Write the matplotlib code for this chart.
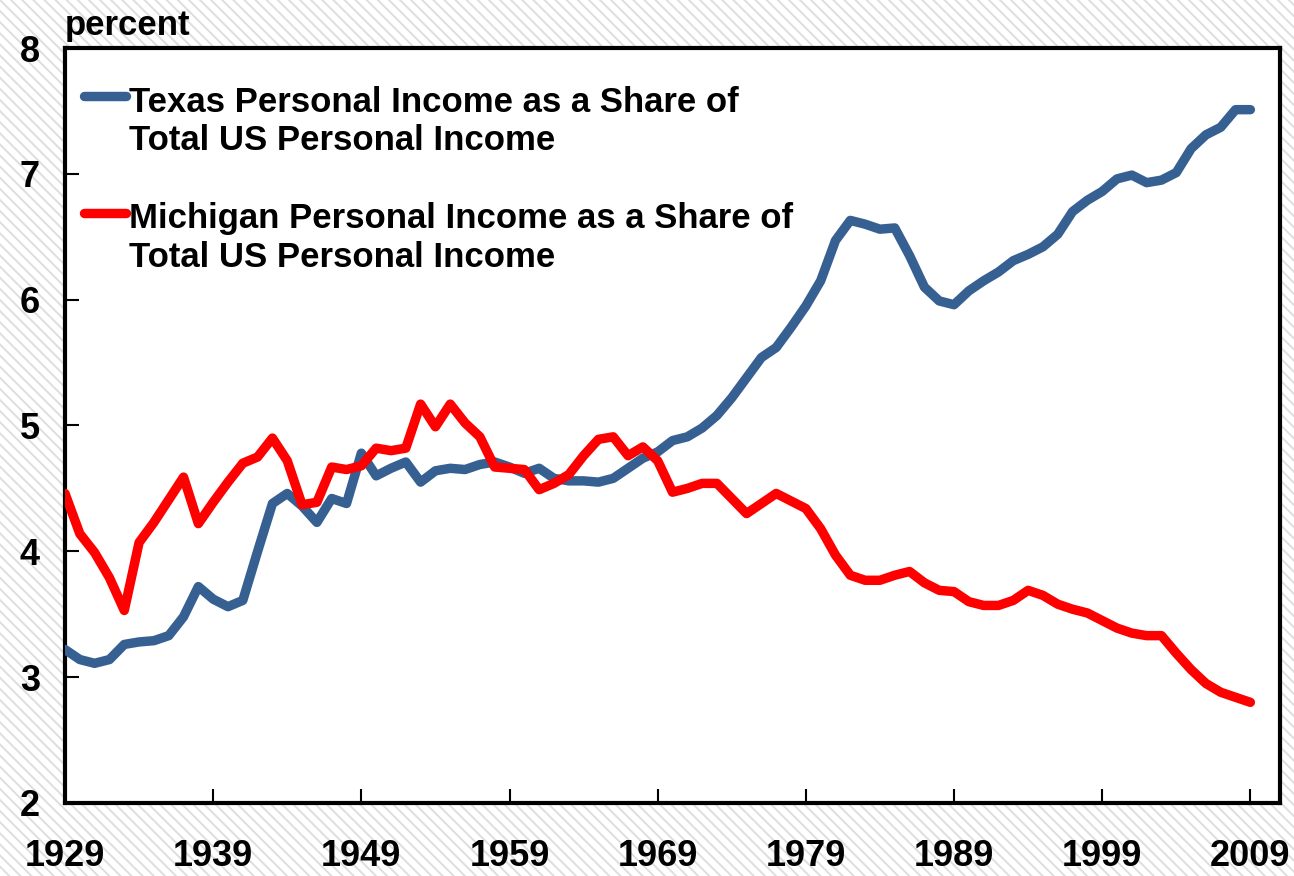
import numpy as np
import matplotlib
matplotlib.use("Agg")
import matplotlib.pyplot as plt
from matplotlib.legend_handler import HandlerLine2D

years = list(range(1929, 2010))

texas = [
    3.22, 3.14, 3.11, 3.14, 3.26, 3.28, 3.29, 3.33, 3.48, 3.72,   # 1929-1938
    3.62, 3.56, 3.61, 4.00, 4.38, 4.46, 4.36, 4.23, 4.42, 4.38,   # 1939-1948
    4.78, 4.60, 4.66, 4.71, 4.55, 4.64, 4.66, 4.65, 4.69, 4.71,   # 1949-1958
    4.67, 4.62, 4.66, 4.58, 4.56, 4.56, 4.55, 4.58, 4.66, 4.74,   # 1959-1968
    4.79, 4.88, 4.91, 4.98, 5.08, 5.22, 5.38, 5.54, 5.62, 5.78,   # 1969-1978
    5.95, 6.15, 6.47, 6.63, 6.60, 6.56, 6.57, 6.35, 6.10, 5.99,   # 1979-1988
    5.96, 6.07, 6.15, 6.22, 6.31, 6.36, 6.42, 6.52, 6.70, 6.79,   # 1989-1998
    6.86, 6.96, 6.99, 6.93, 6.95, 7.01, 7.20, 7.31, 7.37, 7.51,   # 1999-2008
    7.51,                                                         # 2009
]

michigan = [
    4.46, 4.14, 3.99, 3.79, 3.53, 4.07, 4.23, 4.41, 4.59, 4.22,   # 1929-1938
    4.39, 4.55, 4.70, 4.75, 4.90, 4.72, 4.37, 4.39, 4.67, 4.65,   # 1939-1948
    4.68, 4.82, 4.80, 4.82, 5.17, 4.99, 5.17, 5.02, 4.91, 4.67,   # 1949-1958
    4.66, 4.65, 4.49, 4.54, 4.61, 4.76, 4.89, 4.91, 4.76, 4.83,   # 1959-1968
    4.72, 4.47, 4.50, 4.54, 4.54, 4.42, 4.30, 4.38, 4.46, 4.40,   # 1969-1978
    4.34, 4.18, 3.97, 3.81, 3.77, 3.77, 3.81, 3.84, 3.75, 3.69,   # 1979-1988
    3.68, 3.60, 3.57, 3.57, 3.61, 3.69, 3.65, 3.58, 3.54, 3.51,   # 1989-1998
    3.45, 3.39, 3.35, 3.33, 3.33, 3.19, 3.06, 2.95, 2.88, 2.84,   # 1999-2008
    2.80,                                                         # 2009
]

x_ticks = [1929, 1939, 1949, 1959, 1969, 1979, 1989, 1999, 2009]
y_ticks = [2, 3, 4, 5, 6, 7, 8]

label_tx = "Texas Personal Income as a Share of\nTotal US Personal Income"
label_mi = "Michigan Personal Income as a Share of\nTotal US Personal Income"

BLUE = "#376092"
RED = "#FF0000"

plt.rcParams['font.family'] = ['Liberation Sans', 'DejaVu Sans']
plt.rcParams['font.weight'] = 'bold'
plt.rcParams['hatch.linewidth'] = 1.4

fig = plt.figure(figsize=(12.94, 8.76), dpi=100)
fig.patch.set_facecolor('white')
fig.patch.set_edgecolor('#dedede')
fig.patch.set_hatch('\\\\\\')
fig.patch.set_linewidth(0)

ax = fig.add_axes([65/1294, 1-803/876, (1280-65)/1294, (803-48)/876])
ax.set_facecolor('white')

l1, = ax.plot(years, texas, color=BLUE, lw=6.8, solid_capstyle='round',
              solid_joinstyle='round', label=label_tx, zorder=3)
l2, = ax.plot(years, michigan, color=RED, lw=6.8, solid_capstyle='round',
              solid_joinstyle='round', label=label_mi, zorder=3)

ax.set_xlim(1929, 2011)
ax.set_ylim(2, 8)
ax.set_xticks(x_ticks)
ax.set_xticklabels([str(v) for v in x_ticks])
ax.set_yticks(y_ticks)
ax.set_yticklabels([str(v) for v in y_ticks])

for s in ax.spines.values():
    s.set_linewidth(3)
    s.set_color('black')

ax.tick_params(axis='both', direction='in', length=10, width=1.5,
               labelsize=26, colors='black')
ax.tick_params(axis='y', pad=18)
ax.tick_params(axis='x', pad=26)
for t in ax.get_xticklabels() + ax.get_yticklabels():
    t.set_fontweight('bold')

ax.text(0.0, 1.008, "percent", transform=ax.transAxes, ha='left', va='bottom',
        fontsize=25, fontweight='bold')


class TopHandler(HandlerLine2D):
    def create_artists(self, legend, orig_handle, xdescent, ydescent,
                       width, height, fontsize, trans):
        arts = super().create_artists(legend, orig_handle, xdescent, ydescent,
                                      width, height, fontsize, trans)
        for a in arts:
            a.set_ydata(np.asarray(a.get_ydata()) + fontsize * 0.75)
        return arts


leg = ax.legend(handles=[l1, l2], loc='upper left', bbox_to_anchor=(0.0, 0.975),
                frameon=False, prop={'size': 25, 'weight': 'bold'},
                handlelength=1.2, handletextpad=0.08, labelspacing=1.3,
                borderaxespad=0.15,
                handler_map={l1: TopHandler(), l2: TopHandler()})

fig.savefig("out.png", dpi=100, facecolor=fig.get_facecolor())
